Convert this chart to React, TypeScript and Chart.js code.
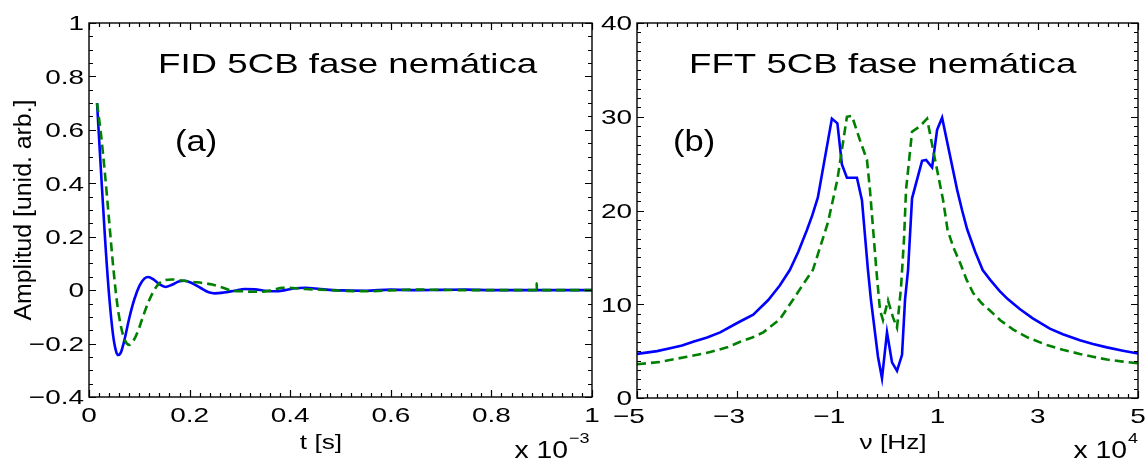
import React, { useEffect, useRef } from "react";
import { Chart, registerables } from "chart.js";

Chart.register(...registerables);

// ---------- Data ----------
// (a) FID, time in units of 1e-3 s
const fidTimeBlue = [0.016, 0.024, 0.032, 0.040, 0.048, 0.054, 0.058, 0.063, 0.070, 0.080, 0.090, 0.100, 0.110, 0.118, 0.128, 0.140, 0.152, 0.165, 0.178, 0.190, 0.205, 0.222, 0.238, 0.250, 0.268, 0.290, 0.310, 0.330, 0.350, 0.370, 0.390, 0.410, 0.430, 0.460, 0.500, 0.550, 0.600, 0.650, 0.700, 0.750, 0.800, 0.850, 0.900, 0.950, 1.000];
const fidBlue = [0.70, 0.44, 0.19, -0.02, -0.17, -0.23, -0.243, -0.235, -0.19, -0.105, -0.035, 0.015, 0.043, 0.049, 0.040, 0.022, 0.012, 0.020, 0.032, 0.035, 0.026, 0.008, -0.008, -0.012, -0.009, -0.002, 0.004, 0.003, -0.002, -0.004, 0.0, 0.007, 0.009, 0.004, -0.001, -0.002, 0.002, 0.0, 0.001, 0.002, 0.0, 0.0, 0.0, 0.0, 0.0];

const fidTimeGreen = [0.016, 0.024, 0.032, 0.040, 0.048, 0.056, 0.064, 0.072, 0.080, 0.088, 0.098, 0.108, 0.118, 0.128, 0.138, 0.150, 0.165, 0.185, 0.205, 0.225, 0.245, 0.265, 0.285, 0.305, 0.325, 0.345, 0.365, 0.385, 0.405, 0.430, 0.460, 0.500, 0.550, 0.600, 0.650, 0.700, 0.750, 0.800, 0.850, 0.8895, 0.890, 0.8905, 0.950, 1.000];
const fidGreen = [0.70, 0.58, 0.43, 0.26, 0.09, -0.05, -0.14, -0.19, -0.205, -0.19, -0.15, -0.095, -0.045, -0.005, 0.022, 0.037, 0.040, 0.036, 0.031, 0.027, 0.021, 0.010, -0.002, -0.004, -0.006, -0.006, 0.0, 0.009, 0.008, 0.004, 0.002, -0.002, -0.004, -0.001, 0.002, 0.001, 0.0, 0.0, 0.0, 0.0, 0.026, 0.0, 0.0, 0.0];

// (b) FFT, frequency in units of 1e4 Hz
const fftFreqBlue = [-5, -4.6, -4.34, -4.1, -3.88, -3.6, -3.34, -3.0, -2.68, -2.38, -2.15, -1.95, -1.78, -1.61, -1.5, -1.39, -1.11, -1.0, -0.91, -0.81, -0.61, -0.51, -0.39, -0.33, -0.19, -0.11, -0.01, 0.09, 0.19, 0.29, 0.35, 0.41, 0.49, 0.69, 0.77, 0.89, 0.99, 1.09, 1.39, 1.49, 1.59, 1.75, 1.90, 2.05, 2.24, 2.4, 2.64, 2.9, 3.24, 3.5, 3.84, 4.1, 4.38, 4.7, 5.0];
const fftBlue = [4.7, 5.0, 5.3, 5.6, 6.0, 6.45, 7.0, 8.0, 8.9, 10.45, 12.0, 13.65, 15.6, 17.9, 19.5, 21.4, 29.8, 29.3, 24.9, 23.5, 23.5, 21.1, 13.65, 10.45, 4.4, 2.1, 7.0, 3.8, 2.9, 4.6, 10.5, 13.65, 21.3, 25.3, 25.4, 24.6, 28.6, 29.9, 22.2, 20.0, 18.0, 15.6, 13.65, 12.6, 11.4, 10.55, 9.5, 8.5, 7.4, 6.8, 6.15, 5.75, 5.4, 5.05, 4.75];

const fftFreqGreen = [-5, -4.54, -4.0, -3.54, -3.2, -2.94, -2.7, -2.48, -2.15, -1.89, -1.7, -1.49, -1.35, -1.19, -1.0, -0.81, -0.71, -0.55, -0.41, -0.35, -0.22, -0.15, -0.09, 0.01, 0.11, 0.19, 0.27, 0.33, 0.37, 0.49, 0.65, 0.79, 0.95, 1.11, 1.2, 1.32, 1.45, 1.58, 1.71, 1.88, 2.05, 2.25, 2.51, 2.8, 3.18, 3.5, 3.84, 4.1, 4.38, 4.7, 5.0];
const fftGreen = [3.6, 3.85, 4.4, 4.9, 5.4, 6.0, 6.45, 7.0, 8.4, 10.45, 12.0, 13.65, 16.0, 18.7, 23.3, 30.0, 30.1, 27.5, 25.4, 22.2, 13.5, 9.4, 8.3, 10.4, 8.6, 7.5, 11.8, 17.0, 22.2, 28.4, 29.0, 29.8, 25.4, 21.1, 17.9, 16.0, 14.4, 12.6, 11.2, 10.1, 9.3, 8.3, 7.3, 6.45, 5.65, 5.15, 4.7, 4.4, 4.1, 3.88, 3.7];

// Ticks
const fidXTicks = [0, 0.2, 0.4, 0.6, 0.8, 1];
const fidXTickLabels = ["0", "0.2", "0.4", "0.6", "0.8", "1"];
const fidYTicks = [-0.4, -0.2, 0, 0.2, 0.4, 0.6, 0.8, 1];
const fidYTickLabels = ["\u22120.4", "\u22120.2", "0", "0.2", "0.4", "0.6", "0.8", "1"];
const fftXTicks = [-5, -3, -1, 1, 3, 5];
const fftXTickLabels = ["\u22125", "\u22123", "\u22121", "1", "3", "5"];
const fftYTicks = [0, 10, 20, 30, 40];
const fftYTickLabels = ["0", "10", "20", "30", "40"];

const BLUE = "#0000ff";
const GREEN = "#008000";
const FONT = '"Liberation Sans", Arial, Helvetica, sans-serif';

type Panel = {
  xMin: number; xMax: number; yMin: number; yMax: number;
  xTicks: number[]; xLabels: string[]; xMinor: number;
  yTicks: number[]; yLabels: string[]; yMinor: number;
  title: string; titleX: number;
  tag: string; tagX: number;
  xTitle: string; xTitleX: number;
  expSup: string; expX: number;
  yTitle?: string;
  smooth: boolean;
};

function txt(ctx: CanvasRenderingContext2D, s: string, x: number, y: number, size: number,
  align: CanvasTextAlign, baseline: CanvasTextBaseline, sx: number, rot = 0) {
  ctx.save();
  ctx.translate(x, y);
  if (rot) ctx.rotate(rot);
  ctx.scale(sx, 1);
  ctx.font = `${size}px ${FONT}`;
  ctx.fillStyle = "#000";
  ctx.textAlign = align;
  ctx.textBaseline = baseline;
  ctx.fillText(s, 0, 0);
  ctx.restore();
}

function makePlugin(p: Panel) {
  return {
    id: "frame",
    afterDraw(chart: any) {
      const ctx: CanvasRenderingContext2D = chart.ctx;
      const { left, right, top, bottom } = chart.chartArea;
      const xs = chart.scales.x;
      const ys = chart.scales.y;
      ctx.save();
      ctx.strokeStyle = "#000";
      ctx.lineWidth = 1.4;
      ctx.strokeRect(left, top, right - left, bottom - top);
      const isMajor = (v: number, arr: number[]) => arr.some((t) => Math.abs(t - v) < 1e-6);
      ctx.beginPath();
      const nx = Math.round((p.xMax - p.xMin) / p.xMinor);
      for (let i = 0; i <= nx; i++) {
        const v = p.xMin + i * p.xMinor;
        const px = Math.round(xs.getPixelForValue(v)) + 0.5;
        const len = isMajor(v, p.xTicks) ? 7 : 4;
        ctx.moveTo(px, bottom); ctx.lineTo(px, bottom - len);
        ctx.moveTo(px, top); ctx.lineTo(px, top + len);
      }
      const ny = Math.round((p.yMax - p.yMin) / p.yMinor);
      for (let i = 0; i <= ny; i++) {
        const v = p.yMin + i * p.yMinor;
        const py = Math.round(ys.getPixelForValue(v)) + 0.5;
        const len = isMajor(v, p.yTicks) ? 7 : 4;
        ctx.moveTo(left, py); ctx.lineTo(left + len, py);
        ctx.moveTo(right, py); ctx.lineTo(right - len, py);
      }
      ctx.lineWidth = 1.2;
      ctx.stroke();
      ctx.restore();

      const tickSize = 21, tsx = 1.33;
      p.yTicks.forEach((v, i) => {
        txt(ctx, p.yLabels[i], left - 5, ys.getPixelForValue(v) + 1.5, tickSize, "right", "middle", tsx);
      });
      p.xTicks.forEach((v, i) => {
        const px = xs.getPixelForValue(v);
        let s = p.xLabels[i];
        let neg = false;
        if (s.startsWith("\u2212")) { neg = true; s = s.slice(1); }
        txt(ctx, s, px, bottom + 19, tickSize, "center", "middle", tsx);
        if (neg) {
          ctx.save();
          ctx.font = `${tickSize}px ${FONT}`;
          const w = ctx.measureText(s).width * tsx;
          ctx.restore();
          txt(ctx, "\u2212", px - w / 2, bottom + 19, tickSize, "right", "middle", tsx);
        }
      });
      txt(ctx, p.title, p.titleX, 73, 28, "left", "alphabetic", 1.31);
      txt(ctx, p.tag, p.tagX, 151, 30, "left", "alphabetic", 1.15);
      txt(ctx, p.xTitle, p.xTitleX, 449, 21, "center", "alphabetic", 1.25);
      txt(ctx, "x 10", p.expX, 458, 24, "right", "alphabetic", 1.18);
      txt(ctx, p.expSup, p.expX + 1, 443, 15, "left", "alphabetic", 1.2);
      if (p.yTitle) {
        txt(ctx, p.yTitle, 31, 210, 23, "center", "alphabetic", 1.08, -Math.PI / 2);
      }
    },
  };
}

function makeConfig(
  p: Panel,
  padding: { left: number; right: number; top: number; bottom: number },
  xb: number[], yb: number[], xg: number[], yg: number[]
): any {
  const interp = p.smooth ? { cubicInterpolationMode: "monotone" } : { tension: 0 };
  return {
    type: "line",
    data: {
      datasets: [
        {
          data: xg.map((x, i) => ({ x, y: yg[i] })),
          borderColor: GREEN,
          borderWidth: 2.6,
          borderDash: [9, 5],
          pointRadius: 0,
          fill: false,
          ...interp,
        },
        {
          data: xb.map((x, i) => ({ x, y: yb[i] })),
          borderColor: BLUE,
          borderWidth: 2.6,
          pointRadius: 0,
          fill: false,
          ...interp,
        },
      ],
    },
    options: {
      responsive: false,
      maintainAspectRatio: false,
      devicePixelRatio: 1,
      animation: false,
      layout: { padding },
      plugins: { legend: { display: false }, tooltip: { enabled: false }, title: { display: false } },
      scales: {
        x: { type: "linear", min: p.xMin, max: p.xMax, display: false },
        y: { type: "linear", min: p.yMin, max: p.yMax, display: false },
      },
    },
    plugins: [makePlugin(p)],
  };
}

const fidPanel: Panel = {
  xMin: 0, xMax: 1, yMin: -0.4, yMax: 1,
  xTicks: fidXTicks, xLabels: fidXTickLabels, xMinor: 0.02,
  yTicks: fidYTicks, yLabels: fidYTickLabels, yMinor: 0.05,
  title: "FID 5CB fase nemática", titleX: 158,
  tag: "(a)", tagX: 175,
  xTitle: "t [s]", xTitleX: 321,
  expSup: "\u22123", expX: 568,
  yTitle: "Amplitud [unid. arb.]",
  smooth: true,
};

const fftPanel: Panel = {
  xMin: -5, xMax: 5, yMin: 0, yMax: 40,
  xTicks: fftXTicks, xLabels: fftXTickLabels, xMinor: 0.2,
  yTicks: fftYTicks, yLabels: fftYTickLabels, yMinor: 1,
  title: "FFT 5CB fase nemática", titleX: 689,
  tag: "(b)", tagX: 673,
  xTitle: "\u03bd [Hz]", xTitleX: 893,
  expSup: "4", expX: 1127,
  smooth: false,
};

export default function App() {
  const ref1 = useRef<HTMLCanvasElement>(null);
  const ref2 = useRef<HTMLCanvasElement>(null);
  useEffect(() => {
    const c1 = new Chart(ref1.current as HTMLCanvasElement,
      makeConfig(fidPanel, { left: 89, right: 1145 - 592, top: 23, bottom: 463 - 397 },
        fidTimeBlue, fidBlue, fidTimeGreen, fidGreen));
    const c2 = new Chart(ref2.current as HTMLCanvasElement,
      makeConfig(fftPanel, { left: 637, right: 1145 - 1138, top: 23, bottom: 463 - 398 },
        fftFreqBlue, fftBlue, fftFreqGreen, fftGreen));
    return () => { c1.destroy(); c2.destroy(); };
  }, []);
  return (
    <div style={{ position: "absolute", left: 0, top: 0, width: 1145, height: 463, background: "#fff" }}>
      <canvas ref={ref1} width={1145} height={463} style={{ position: "absolute", left: 0, top: 0 }} />
      <canvas ref={ref2} width={1145} height={463} style={{ position: "absolute", left: 0, top: 0 }} />
    </div>
  );
}
